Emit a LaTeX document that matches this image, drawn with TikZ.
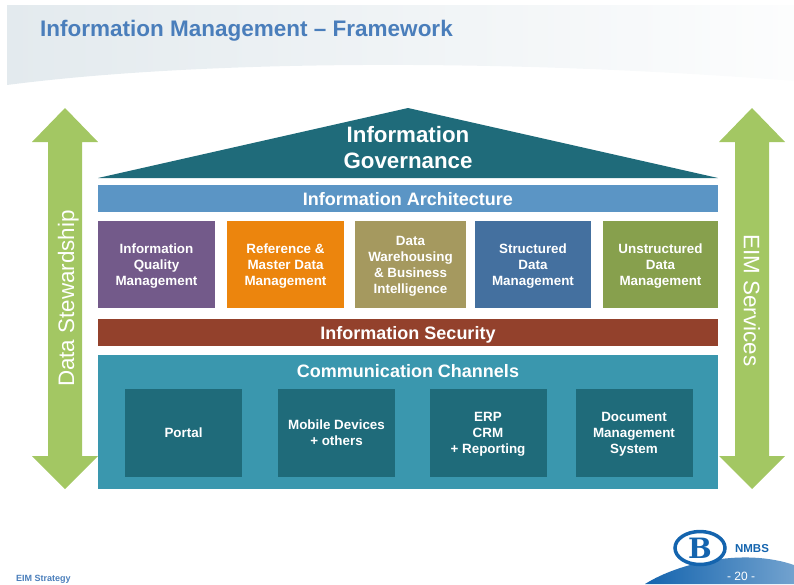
\documentclass[tikz,border=0pt]{standalone}
\usepackage{fontspec}
\setmainfont{Liberation Sans}
\newfontfamily\logofont{DejaVu Serif}
\usepackage{tikz}
\usetikzlibrary{positioning, shapes, calc, fit}

\definecolor{govteal}{HTML}{1F6B7A}
\definecolor{chanblue}{HTML}{3A97AE}
\definecolor{archblue}{HTML}{5B95C5}
\definecolor{secbrown}{HTML}{93412C}
\definecolor{arrowgreen}{HTML}{A3C763}
\definecolor{titleblue}{HTML}{4A7EBB}
\definecolor{logoblue}{HTML}{1464AE}
\definecolor{bandgrey}{HTML}{E3EAEE}

\tikzset{
	block/.style={minimum width=#1, inner sep=0pt, align=center, text=white, text depth=0pt, font=\fontsize{13.4}{16}\selectfont\bfseries},
	bar/.style={minimum width=620pt, minimum height=27pt, inner sep=0pt, text=white, text height=15pt, text depth=0pt, font=\fontsize{18}{20}\selectfont\bfseries},
	sidetext/.style={text=white, rotate=90, inner sep=0pt, text depth=0pt, font=\fontsize{22.4}{24}\selectfont},
}

\begin{document}
\begin{tikzpicture}[x=1pt, y=-1pt]
		
		\useasboundingbox (0,0) rectangle (794,584);
		
		%//header band
		\shade [left color=bandgrey, right color=bandgrey!10] (7,5) -- (794,5) -- (794,81) .. controls (500,58) and (200,60) .. (7,85) -- cycle;
		\node (title) [anchor=base west, inner sep=0pt, text=titleblue, font=\fontsize{22.5}{24}\selectfont\bfseries] at (40,36) {Information Management -- Framework};
		
		%//side arrows
		\foreach \x in {65, 752}
		\fill [arrowgreen] (\x,108) -- (\x+33,142) -- (\x+17,142) -- (\x+17,456) -- (\x+33,456) -- (\x,489) -- (\x-33,456) -- (\x-17,456) -- (\x-17,142) -- (\x-33,142) -- cycle;
		\node (stewardship) [sidetext] at (66,298.5) {Data Stewardship};
		\node (services) [sidetext, rotate=180] at (752,300.5) {EIM Services};
		
		%//roof
		\fill [govteal] (98,178) -- (408,108) -- (718,178) -- cycle;
		\node (governance) [align=center, inner sep=0pt, text=white, font=\fontsize{22.3}{26}\selectfont\bfseries] at (408,148) {Information\\Governance};
		
		%//bars
		\node (architecture) [bar, fill=archblue] at (408,198) {Information Architecture};
		\node (security) [bar, fill=secbrown] at (408,332) {Information Security};
		
		%//management boxes
		\foreach \x/\w/\col/\nm/\val in {
			156.5/117/735A8A/quality/{Information\\Quality\\Management},
			285.5/117/EC850D/master/{Reference \&\\Master Data\\Management},
			410.5/111/A5995F/warehouse/{Data\\Warehousing\\\& Business\\Intelligence},
			533/116/44709F/structured/{Structured\\Data\\Management},
			660.5/115/87A04D/unstructured/{Unstructured\\Data\\Management}}
		{
			\definecolor{boxcol}{HTML}{\col}
			\node (\nm) [block=\w pt, minimum height=87pt, fill=boxcol] at (\x,264.5) {\val};
		}
		
		%//communication channels
		\node (channels) [minimum width=620pt, minimum height=134pt, inner sep=0pt, fill=chanblue] at (408,422) {};
		\node (channelstitle) [text=white, inner sep=0pt, text depth=0pt, font=\fontsize{18}{20}\selectfont\bfseries] at (408,371) {Communication Channels};
		
		\foreach \x/\nm/\val in {
			183.5/portal/{Portal},
			336.5/mobile/{Mobile Devices\\+ others},
			488/erp/{ERP\\CRM\\+ Reporting},
			634/dms/{Document\\Management\\System}}
		\node (\nm) [block=117pt, minimum height=88pt, fill=govteal] at (\x,433) {\val};
		
		%//footer
		\node (strategy) [anchor=west, inner sep=0pt, text=titleblue, font=\fontsize{9}{10}\selectfont\bfseries] at (16,579) {EIM Strategy};
		\shade [left color=logoblue, right color=logoblue!60] (645,584) .. controls (680,562) and (745,548) .. (794,565) -- (794,584) -- cycle;
		\node (logo) [ellipse, draw=logoblue, line width=3.5pt, fill=white, minimum width=50pt, minimum height=33pt, inner sep=0pt, text=logoblue, font=\fontsize{28}{28}\selectfont\logofont\bfseries] at (700,548) {B};
		\node (nmbs) [inner sep=0pt, text=logoblue, font=\fontsize{11.5}{12}\selectfont\bfseries] at (752,549) {NMBS};
		\node (page) [inner sep=0pt, text=white, font=\fontsize{12}{12}\selectfont] at (741,576) {- 20 -};
		
\end{tikzpicture}
\end{document}
